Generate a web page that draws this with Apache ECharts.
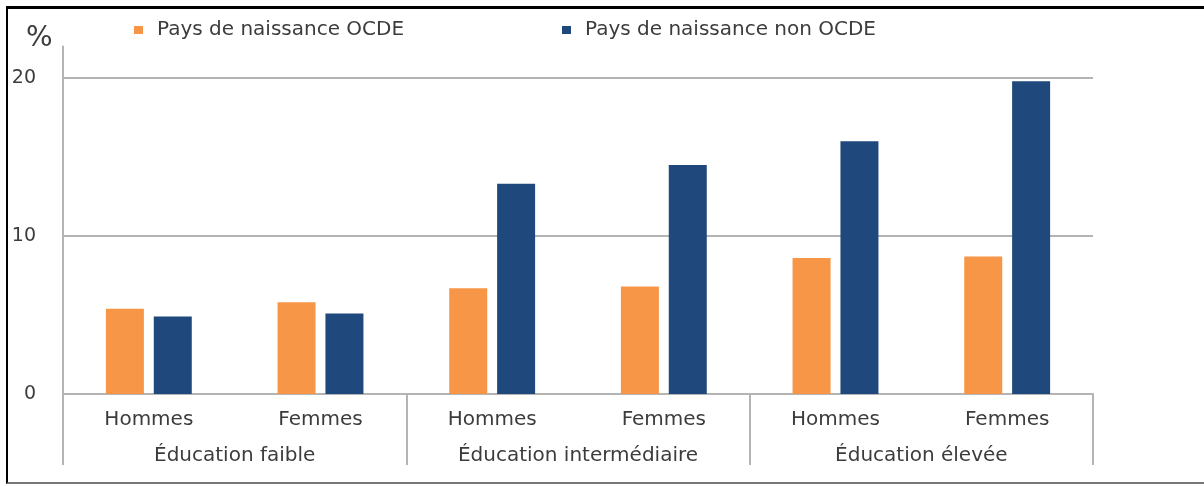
<!DOCTYPE html>
<html>
<head>
<meta charset="utf-8">
<script src="https://cdn.jsdelivr.net/npm/echarts@6/dist/echarts.min.js"></script>
<style>
  html, body { margin: 0; padding: 0; background: #fff; }
  #chart { width: 1204px; height: 486px; }
  .frame {
    position: absolute; left: 6px; top: 6px; width: 1200px; height: 473px;
    border-left: 2px solid #000; border-top: 3px solid #000; border-bottom: 2px solid #777;
    pointer-events: none;
  }
</style>
</head>
<body>
<div id="chart"></div>
<div class="frame"></div>
<script>
const categories = ['Hommes', 'Femmes', 'Hommes', 'Femmes', 'Hommes', 'Femmes'];
const groups = ['Éducation faible', 'Éducation intermédiaire', 'Éducation élevée'];
const ocde = [5.4, 5.8, 6.7, 6.8, 8.6, 8.7];
const nonOcde = [4.9, 5.1, 13.3, 14.5, 16.0, 19.8];

const textColor = '#3c3c3c';
const lineColor = '#b4b4b4';
const font = 'DejaVu Sans';

const chart = echarts.init(document.getElementById('chart'));
const grid = { left: 63, right: 111, top: 46.4, bottom: 92 };

chart.setOption({
  animation: false,
  textStyle: { fontFamily: font },
  title: {
    text: '%', left: 21, top: 20,
    textStyle: { fontFamily: font, fontSize: 28, fontWeight: 'normal', color: textColor }
  },
  legend: [
    {
      data: ['Pays de naissance OCDE'], left: 129, top: 15,
      icon: 'rect', itemWidth: 9, itemHeight: 8,
      textStyle: { fontSize: 20, color: textColor, fontFamily: font, padding: [0, 0, 0, 9] }
    },
    {
      data: ['Pays de naissance non OCDE'], left: 557, top: 15,
      icon: 'rect', itemWidth: 9, itemHeight: 8,
      textStyle: { fontSize: 20, color: textColor, fontFamily: font, padding: [0, 0, 0, 9] }
    }
  ],
  grid: [grid, Object.assign({}, grid)],
  xAxis: [
    {
      type: 'category', gridIndex: 0, data: categories,
      axisLine: { lineStyle: { color: lineColor, width: 2 } },
      axisTick: { show: false },
      axisLabel: { margin: 16, fontSize: 20, color: textColor, fontFamily: font, interval: 0 }
    },
    {
      type: 'category', gridIndex: 1, data: groups, position: 'bottom',
      axisLine: { show: false },
      axisTick: { show: true, length: 71, lineStyle: { color: lineColor, width: 2 } },
      axisLabel: { margin: 52, fontSize: 20, color: textColor, fontFamily: font, interval: 0 }
    }
  ],
  yAxis: [
    {
      type: 'value', gridIndex: 0, min: 0, max: 22, interval: 10,
      axisLine: { show: true, lineStyle: { color: lineColor, width: 2 } },
      axisTick: { show: false },
      axisLabel: { margin: 27, fontSize: 19, color: textColor, fontFamily: font, showMaxLabel: false },
      splitLine: { show: true, showMinLine: false, showMaxLine: false, lineStyle: { color: lineColor, width: 2 } }
    },
    { type: 'value', gridIndex: 1, min: 0, max: 22, show: false }
  ],
  series: [
    {
      name: 'Pays de naissance OCDE', type: 'bar', data: ocde,
      xAxisIndex: 0, yAxisIndex: 0,
      barWidth: 38, barGap: '26%',
      itemStyle: { color: '#F79646' }
    },
    {
      name: 'Pays de naissance non OCDE', type: 'bar', data: nonOcde,
      xAxisIndex: 0, yAxisIndex: 0,
      barWidth: 38, barGap: '26%',
      itemStyle: { color: '#1F497D' }
    }
  ]
});
</script>
</body>
</html>
